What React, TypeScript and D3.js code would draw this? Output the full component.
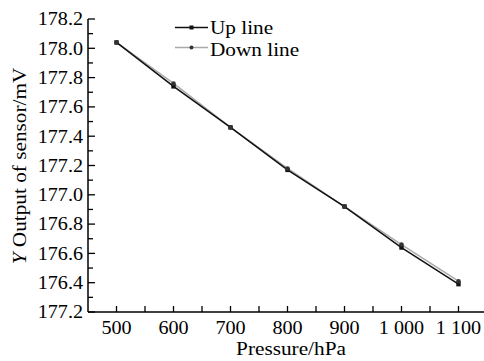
import React, { useRef, useEffect } from "react";
import * as d3 from "d3";

const pressures = [500, 600, 700, 800, 900, 1000, 1100];
const upLine = [178.04, 177.74, 177.46, 177.17, 176.92, 176.64, 176.39];
const downLine = [178.04, 177.76, 177.46, 177.18, 176.92, 176.66, 176.41];
const yTickValues = [176.2, 176.4, 176.6, 176.8, 177.0, 177.2, 177.4, 177.6, 177.8, 178.0, 178.2];
// the bottom label reads "177.2" in the original figure
const yTickLabels = ["177.2", "176.4", "176.6", "176.8", "177.0", "177.2", "177.4", "177.6", "177.8", "178.0", "178.2"];
const xTickLabels = ["500", "600", "700", "800", "900", "1 000", "1 100"];

const FONT = "'Liberation Serif', 'Times New Roman', serif";
const SX = 1.12; // the original type is a bit wide

const App = () => {
  const svgRef = useRef<SVGSVGElement>(null);

  useEffect(() => {
    const svg = d3.select(svgRef.current);
    svg.selectAll("*").remove();

    const x = d3.scaleLinear().domain([450, 1150]).range([88, 487]);
    const y = d3.scaleLinear().domain([176.2, 178.2]).range([312, 19]);

    // axes lines
    svg.append("line").attr("x1", 88).attr("x2", 88).attr("y1", y(178.2)).attr("y2", y(176.2))
      .attr("stroke", "#000").attr("stroke-width", 1.5);
    svg.append("line").attr("x1", 88).attr("x2", 487).attr("y1", y(176.2)).attr("y2", y(176.2))
      .attr("stroke", "#000").attr("stroke-width", 1.5);

    // y ticks
    const yMinor = d3.range(176.3, 178.2, 0.2);
    svg.selectAll(".ymaj").data(yTickValues).enter().append("line")
      .attr("x1", 88).attr("x2", 95).attr("y1", (d) => y(d)).attr("y2", (d) => y(d))
      .attr("stroke", "#000").attr("stroke-width", 1.3);
    svg.selectAll(".ymin").data(yMinor).enter().append("line")
      .attr("x1", 88).attr("x2", 93).attr("y1", (d) => y(d)).attr("y2", (d) => y(d))
      .attr("stroke", "#000").attr("stroke-width", 1.3);
    svg.selectAll(".ylab").data(yTickValues).enter().append("text")
      .attr("transform", (d) => `translate(83,${y(d)}) scale(${SX},1)`)
      .attr("dy", "0.35em")
      .attr("text-anchor", "end")
      .attr("font-family", FONT).attr("font-size", 18)
      .text((d, i) => yTickLabels[i]);

    // x ticks
    const xAll = d3.range(500, 1151, 50);
    svg.selectAll(".xt").data(xAll).enter().append("line")
      .attr("x1", (d) => x(d)).attr("x2", (d) => x(d))
      .attr("y1", y(176.2)).attr("y2", y(176.2) - 6)
      .attr("stroke", "#000").attr("stroke-width", 1.3);
    svg.selectAll(".xlab").data(pressures).enter().append("text")
      .attr("transform", (d) => `translate(${x(d)},334) scale(${SX},1)`)
      .attr("text-anchor", "middle")
      .attr("font-family", FONT).attr("font-size", 18)
      .text((d, i) => xTickLabels[i]);

    // axis titles
    svg.append("text")
      .attr("transform", `translate(291,355) scale(${SX},1)`)
      .attr("text-anchor", "middle")
      .attr("font-family", FONT).attr("font-size", 19)
      .text("Pressure/hPa");
    const yt = svg.append("text")
      .attr("transform", `translate(26,166) rotate(-90) scale(${SX},1)`)
      .attr("text-anchor", "middle")
      .attr("font-family", FONT).attr("font-size", 19);
    yt.append("tspan").attr("font-style", "italic").text("Y");
    yt.append("tspan").text(" Output of sensor/mV");

    const line = d3.line<number>().x((d, i) => x(pressures[i])).y((d) => y(d));

    // down line (gray)
    svg.append("path").datum(downLine).attr("d", line)
      .attr("fill", "none").attr("stroke", "#aaa").attr("stroke-width", 1.5);
    // up line (black)
    svg.append("path").datum(upLine).attr("d", line)
      .attr("fill", "none").attr("stroke", "#111").attr("stroke-width", 1.5);

    svg.selectAll(".upm").data(upLine).enter().append("rect")
      .attr("x", (d, i) => x(pressures[i]) - 2.2).attr("y", (d) => y(d) - 2.2)
      .attr("width", 4.4).attr("height", 4.4).attr("fill", "#111");
    svg.selectAll(".dnm").data(downLine).enter().append("circle")
      .attr("cx", (d, i) => x(pressures[i])).attr("cy", (d) => y(d)).attr("r", 2.3)
      .attr("fill", "#333");

    // legend
    const lg = svg.append("g");
    lg.append("line").attr("x1", 175).attr("x2", 208).attr("y1", 27.5).attr("y2", 27.5)
      .attr("stroke", "#111").attr("stroke-width", 1.5);
    lg.append("rect").attr("x", 189.5).attr("y", 25.5).attr("width", 4).attr("height", 4).attr("fill", "#111");
    lg.append("line").attr("x1", 175).attr("x2", 208).attr("y1", 47.5).attr("y2", 47.5)
      .attr("stroke", "#aaa").attr("stroke-width", 1.5);
    lg.append("circle").attr("cx", 191.5).attr("cy", 47.5).attr("r", 2).attr("fill", "#333");
    lg.append("text").attr("transform", `translate(210,33.5) scale(${SX},1)`)
      .attr("font-family", FONT).attr("font-size", 19).text("Up line");
    lg.append("text").attr("transform", `translate(210,55.5) scale(${SX},1)`)
      .attr("font-family", FONT).attr("font-size", 19).text("Down line");
  }, []);

  return (
    <svg
      ref={svgRef}
      width={484}
      height={361}
      style={{ position: "absolute", left: 0, top: 0, background: "#fff" }}
    ></svg>
  );
};

export default App;
